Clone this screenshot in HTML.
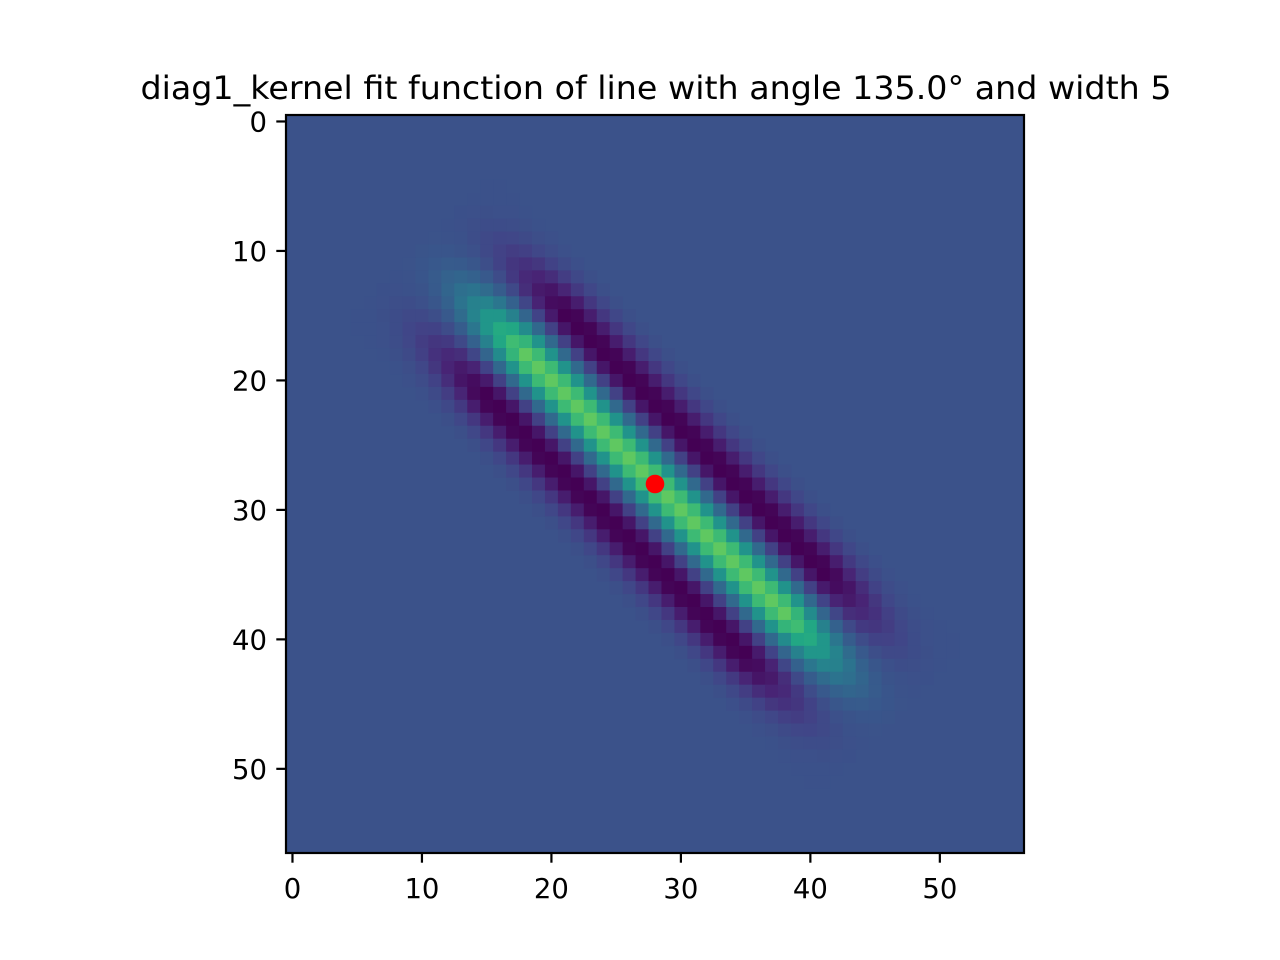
<!DOCTYPE html>
<html><head><meta charset="utf-8"><style>
html,body{margin:0;padding:0;background:#fff;}
svg{display:block;font-family:"DejaVu Sans","Liberation Sans",sans-serif;}
</style></head><body>
<svg id="chart" width="1280" height="960" viewBox="0 0 1280 960" xmlns="http://www.w3.org/2000/svg">
<rect width="1280" height="960" fill="#fff"/>
<text x="656" y="99" font-size="32" text-anchor="middle" textLength="1031" lengthAdjust="spacingAndGlyphs">diag1_kernel fit function of line with angle 135.0° and width 5</text>
<g id="cells"></g>
<g id="marks"></g>
</svg>
<script>
// ---- data ----
const gridSize = 57;
const center = [28, 28];
const xTicks = [0, 10, 20, 30, 40, 50];
const yTicks = [0, 10, 20, 30, 40, 50];
// perpendicular profile (colormap offset from background) indexed by |x - y|
const profile = [0.5, 0.43, 0.26, 0.09, -0.06, -0.19, -0.25, -0.24, -0.17, -0.09, -0.04, -0.01];
// envelope along the line indexed by |x + y - 56|
const envelope = [1,1,1,1,1,1,1,1,1,1,1,1,1,1,1,1,1,1,1,1,1,0.94,0.87,0.8,0.72,0.63,0.54,0.45,0.37,0.3,0.23,0.17,0.12,0.08,0.05,0.03,0.015];
const background = 0.25;

// ---- layout ----
const L = 286, T = 115, W = 738, H = 738;
const cell = W / gridSize;
const xs = v => L + (v + 0.5) * cell;
const ys = v => T + (v + 0.5) * cell;
const NS = "http://www.w3.org/2000/svg";
const stops = ["#440154","#482475","#414487","#355f8d","#2a788e","#21918c","#22a884","#44bf70","#7ad151","#bddf26","#fde725"];
function hex(h){return [1,3,5].map(i=>parseInt(h.substr(i,2),16));}
function viridis(t){
  t=Math.max(0,Math.min(1,t));
  const p=t*10, i=Math.min(9,Math.floor(p)), f=p-i;
  const a=hex(stops[i]), b=hex(stops[i+1]);
  return "rgb("+a.map((v,k)=>Math.round(v+(b[k]-v)*f)).join(",")+")";
}
const cells = document.getElementById("cells");
const bg = document.createElementNS(NS,"rect");
bg.setAttribute("x",L);bg.setAttribute("y",T);bg.setAttribute("width",W);bg.setAttribute("height",H);
bg.setAttribute("fill",viridis(background));


cells.appendChild(bg);
for(let y=0;y<gridSize;y++){
  for(let x=0;x<gridSize;x++){
    const k=Math.abs(x-y), s=Math.abs(x+y-center[0]-center[1]);
    if(k>=profile.length||s>=envelope.length) continue;
    const v=background+profile[k]*envelope[s];
    const r=document.createElementNS(NS,"rect");
    r.setAttribute("x",(L+x*cell).toFixed(2));r.setAttribute("y",(T+y*cell).toFixed(2));
    r.setAttribute("width",(cell+0.4).toFixed(2));r.setAttribute("height",(cell+0.4).toFixed(2));
    r.setAttribute("fill",viridis(v));
    
    
    cells.appendChild(r);
  }
}
const marks=document.getElementById("marks");
function add(tag,attrs){const e=document.createElementNS(NS,tag);for(const k in attrs)e.setAttribute(k,attrs[k]);marks.appendChild(e);return e;}
const frame=add("rect",{x:L,y:T,width:W,height:H,fill:"none",stroke:"#000","stroke-width":2.2});


xTicks.forEach(v=>{
  const t=add("line",{x1:xs(v),x2:xs(v),y1:T+H,y2:T+H+9.7,stroke:"#000","stroke-width":2.2});
  
  
  const l=add("text",{x:xs(v),y:T+H+45,"font-size":27.5,"text-anchor":"middle"});
  l.textContent=v;
  
  
});
yTicks.forEach(v=>{
  const t=add("line",{x1:L-9.7,x2:L,y1:ys(v),y2:ys(v),stroke:"#000","stroke-width":2.2});
  
  
  const l=add("text",{x:L-19,y:ys(v)+10,"font-size":27.5,"text-anchor":"end"});
  l.textContent=v;
  
  
});
const dot=add("circle",{cx:xs(center[0]),cy:ys(center[1]),r:9.3,fill:"#ff0000"});


</script>
</body></html>
